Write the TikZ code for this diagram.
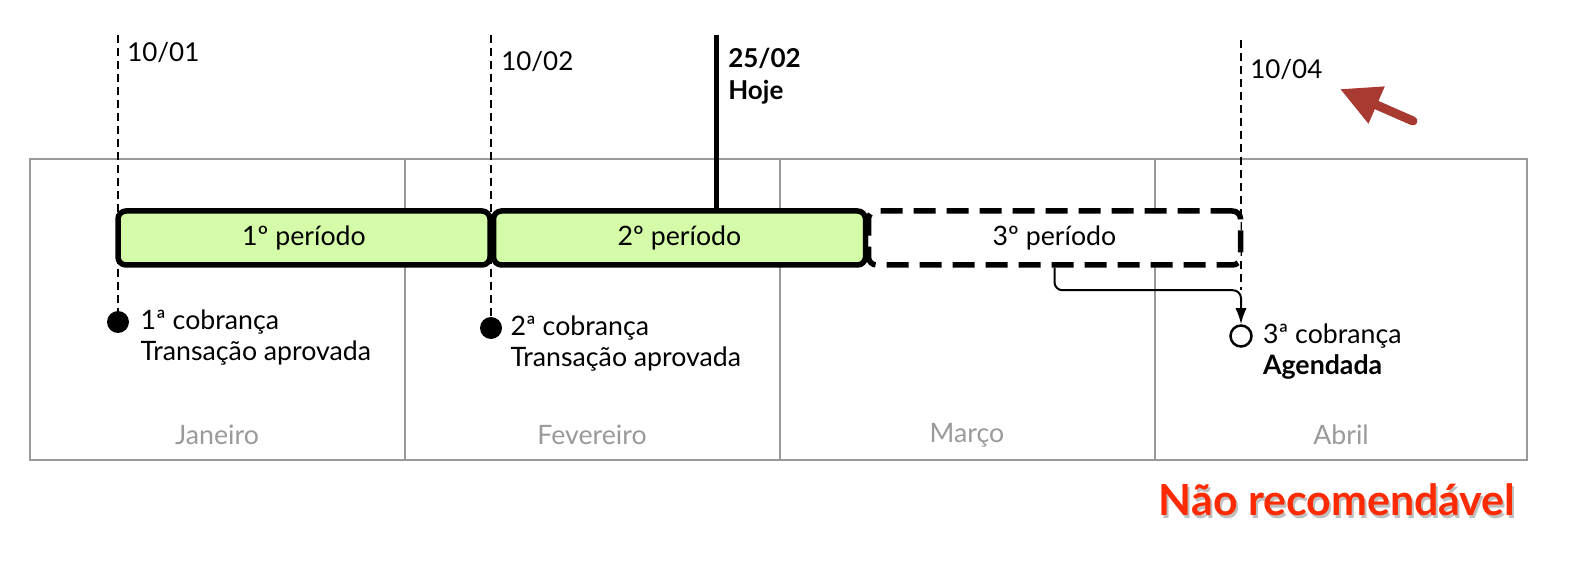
\documentclass[tikz,border=0pt]{standalone}
\usepackage{fontspec}
\setmainfont{Lato}
\usepackage{xcolor}
\usetikzlibrary{positioning,calc,arrows.meta}
\newdimen\pxu \pxu=0.25mm
\definecolor{periodGreen}{HTML}{D4FBA8}
\definecolor{gridGray}{HTML}{9A9A9A}
\definecolor{arrowRed}{HTML}{A83A32}
\definecolor{warnRed}{HTML}{FF2A00}
\tikzstyle{gridLine}  =[draw=gridGray, line width=2\pxu]
\tikzstyle{monthLabel}=[text=gridGray, font=\fontsize{19}{22}\selectfont]
\tikzstyle{dateLine}  =[line width=2.5\pxu, dash pattern=on 8\pxu off 5\pxu]
\tikzstyle{dateLabel} =[anchor=west, inner sep=0pt, font=\fontsize{18.5}{22}\selectfont]
\tikzstyle{todayLine} =[line width=5\pxu]
\tikzstyle{periodBox} =[draw, line width=5.5\pxu, rounded corners=8\pxu, minimum width=372\pxu,
                        minimum height=54\pxu, inner sep=0pt, font=\fontsize{19}{22}\selectfont]
\tikzstyle{chargeDot} =[circle, fill=black, minimum size=22\pxu, inner sep=0pt]
\tikzstyle{chargeOpen}=[circle, draw, fill=white, line width=2.5\pxu, minimum size=21\pxu, inner sep=0pt]
\tikzstyle{chargeText}=[align=left, inner sep=0pt, font=\fontsize{19}{22}\selectfont]
\tikzstyle{linkLine}  =[line width=2\pxu, rounded corners=8\pxu]
\tikzstyle{warnArrow} =[draw=arrowRed, line width=9\pxu, line cap=round,
                        -{Triangle[length=10mm, width=9.5mm]}]
\tikzstyle{warnText}  =[font=\fontsize{30.5}{36}\selectfont\bfseries]

\begin{document}
\begin{tikzpicture}[x=0.25mm, y=-0.25mm, >={Latex[length=4mm, width=2.8mm]}]
  \useasboundingbox (0,0) rectangle (1576,581);
  % months
  \draw[gridLine] (30,159) rectangle (1527,460);
  \foreach \xm in {405,780,1155} \draw[gridLine] (\xm,159) -- (\xm,460);
  \node[monthLabel] (jan) at (217,435) {Janeiro};
  \node[monthLabel] (fev) at (592,435) {Fevereiro};
  \node[monthLabel] (mar) at (967,435) {Março};
  \node[monthLabel] (abr) at (1341,435) {Abril};

  % dates and charges
  \coordinate (t1) at (118,35);
  \coordinate (t2) at (491,35);
  \coordinate (t4) at (1241,40);
  \node[dateLabel] (l1) at (127,53) {10/01};
  \node[dateLabel] (l2) at (501,62) {10/02};
  \node[dateLabel] (l4) at (1250,70) {10/04};
  \node[chargeDot] (d1) at (118,322) {};
  \node[chargeDot] (d2) at (491,328) {};
  \node[chargeOpen] (d3) at (1241,336) {};
  \coordinate (j3) at ([yshift=34\pxu]d3.north);
  \draw[dateLine] (t1) -- (d1);
  \draw[dateLine] (t2) -- (d2);
  \draw[dateLine] (t4) -- (j3);
  \node[chargeText, right=11\pxu of d1, yshift=-16\pxu] (c1) {1ª cobrança\\Transação aprovada};
  \node[chargeText, right=8\pxu of d2, yshift=-16\pxu] (c2) {2ª cobrança\\Transação aprovada};
  \node[chargeText, right=10\pxu of d3, yshift=-16\pxu] (c3) {3ª cobrança\\\textbf{Agendada}};

  % periods
  \node[periodBox, fill=periodGreen] (p1) at (304,238) {1º período};
  \node[periodBox, fill=periodGreen] (p2) at (679.5,238) {2º período};
  \node[periodBox, fill=white, dash pattern=on 22\pxu off 11\pxu] (p3) at (1054.5,238) {3º período};
  \draw[linkLine, ->] (p3.south) |- (j3) -- (d3.north);

  % today
  \coordinate (hTop) at (716,35);
  \draw[todayLine] (hTop) -- (hTop |- p2.north);
  \node[dateLabel, align=left, font=\fontsize{18.5}{23}\selectfont\bfseries] (hoje) at (728,76) {25/02\\Hoje};

  % warning
  \coordinate (rTail) at (1413,121);
  \coordinate (rTip) at (1340,89);
  \draw[warnArrow] (rTail) -- (rTip);
  \node[warnText, text=black, opacity=0.25] (warnShadow) at (1339,503) {Não recomendável};
  \node[warnText, text=warnRed] (warn) at (1337,500) {Não recomendável};
\end{tikzpicture}
\end{document}
